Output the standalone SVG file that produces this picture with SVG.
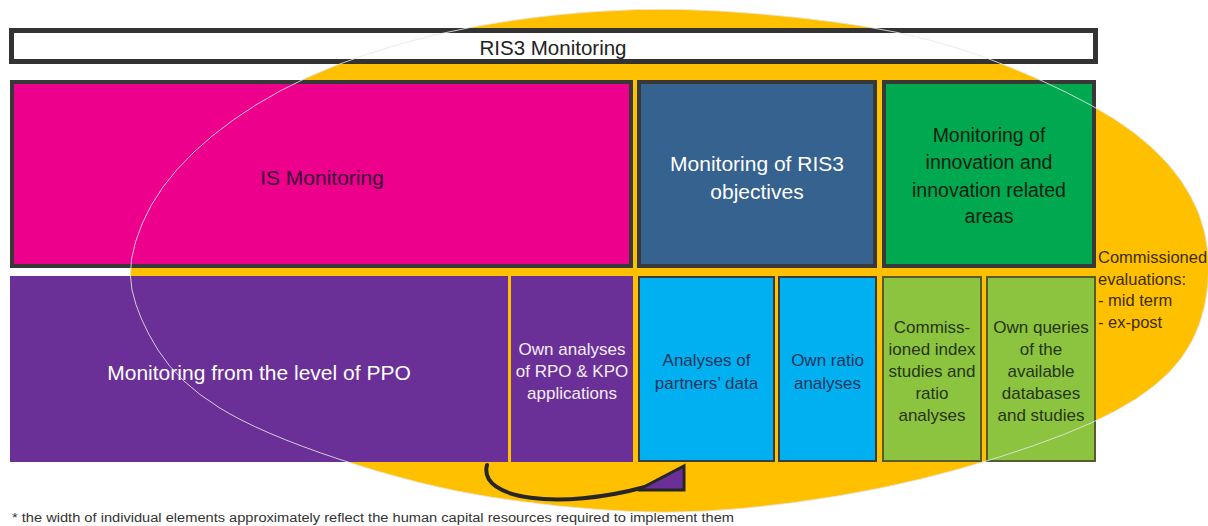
<svg xmlns="http://www.w3.org/2000/svg" width="1208" height="526" viewBox="0 0 1208 526">
<style>
text{font-family:"Liberation Sans",Arial,sans-serif;text-anchor:middle;dominant-baseline:central}
.h{font-size:19.5px;fill:#0d1f10}
.s{font-size:17px}
.top{stroke:#383838;stroke-width:4}
.bot{stroke:#3c3c3c;stroke-width:2}
.lg{stroke:#5a5a30;stroke-width:2}
.ce{font-size:16.5px;text-anchor:start;fill:#3d2e00}
</style>
<defs>
<path id="oval" d="M555,15 Q640,6 720,11 Q800,16 865,26.5 Q930,37 986.5,58 Q1043,79 1091.5,105.5 Q1140,132 1168,164 Q1196,196 1204.5,232 Q1213,268 1204.5,306.5 Q1196,345 1169,372.5 Q1142,400 1091,423 Q1040,446 961,468.5 Q882,491 791,503 Q700,515 630,511.5 Q560,508 490,497 Q420,486 340,459.5 Q260,433 219,407.5 Q178,382 158,350 Q138,318 132,290 Q126,262 142,224 Q158,186 194,152 Q230,118 280,91 Q330,64 400,44 Q470,24 555,15 Z"/>
</defs>
<rect width="1208" height="526" fill="#ffffff"/>
<use id="ellipse-fill" href="#oval" fill="#FFC000"/>
<g id="title">
<rect x="11.5" y="30.5" width="1084" height="31" fill="#ffffff" stroke="#333333" stroke-width="5"/>
<text x="553" y="47" style="font-size:20.5px" fill="#222222">RIS3 Monitoring</text>
</g>
<g id="is-monitoring">
<rect class="top" x="12" y="82" width="619" height="184" fill="#EC008C"/>
<text x="322" y="177" fill="#3a0a36" style="font-size:21px">IS Monitoring</text>
</g>
<g id="ris3-objectives">
<rect class="top" x="639" y="82" width="236" height="184" fill="#35628F"/>
<text x="757" y="163" fill="#ffffff" style="font-size:21px">Monitoring of RIS3</text>
<text x="757" y="191" fill="#ffffff" style="font-size:21px">objectives</text>
</g>
<g id="innovation-areas">
<rect class="top" x="884" y="82" width="210" height="184" fill="#00A84F"/>
<text class="h" x="989" y="135">Monitoring of</text>
<text class="h" x="989" y="162">innovation and</text>
<text class="h" x="989" y="190">innovation related</text>
<text class="h" x="989" y="216">areas</text>
</g>
<g id="ppo">
<rect x="10" y="276" width="498" height="186" fill="#6A3098"/>
<text x="259" y="372" fill="#ffffff" style="font-size:21px">Monitoring from the level of PPO</text>
</g>
<g id="rpo-kpo">
<rect x="511" y="276" width="122" height="186" fill="#6A3098"/>
<text class="s" x="572" y="349" fill="#f4eefa">Own analyses</text>
<text class="s" x="572" y="371" fill="#f4eefa">of RPO &amp; KPO</text>
<text class="s" x="572" y="393" fill="#f4eefa">applications</text>
</g>
<g id="partners-data">
<rect class="bot" x="639" y="277" width="135" height="184" fill="#00B0F0"/>
<text class="s" x="706.5" y="360" fill="#1b365d">Analyses of</text>
<text class="s" x="706.5" y="383" fill="#1b365d">partners’ data</text>
</g>
<g id="ratio-analyses">
<rect class="bot" x="779" y="277" width="97" height="184" fill="#00B0F0"/>
<text class="s" x="827.5" y="360" fill="#1b365d">Own ratio</text>
<text class="s" x="827.5" y="383" fill="#1b365d">analyses</text>
</g>
<g id="index-studies">
<rect class="lg" x="883" y="277" width="98" height="184" fill="#8CC43F"/>
<text class="s" x="932" y="327" fill="#263514">Commiss-</text>
<text class="s" x="932" y="349" fill="#263514">ioned index</text>
<text class="s" x="932" y="371" fill="#263514">studies and</text>
<text class="s" x="932" y="393" fill="#263514">ratio</text>
<text class="s" x="932" y="415" fill="#263514">analyses</text>
</g>
<g id="own-queries">
<rect class="lg" x="987" y="277" width="108" height="184" fill="#8CC43F"/>
<text class="s" x="1041" y="327" fill="#263514">Own queries</text>
<text class="s" x="1041" y="349" fill="#263514">of the</text>
<text class="s" x="1041" y="371" fill="#263514">available</text>
<text class="s" x="1041" y="393" fill="#263514">databases</text>
<text class="s" x="1041" y="415" fill="#263514">and studies</text>
</g>
<g id="commissioned-evaluations">
<text class="ce" x="1098" y="257">Commissioned</text>
<text class="ce" x="1098" y="279">evaluations:</text>
<text class="ce" x="1098" y="300">- mid term</text>
<text class="ce" x="1098" y="322">- ex-post</text>
</g>
<use id="ellipse-outline" href="#oval" fill="none" stroke="#e6e6e6" stroke-opacity="0.85" stroke-width="1"/>
<g id="connectors">
<path d="M487,465 C478,500 560,510 645,487" fill="none" stroke="#262626" stroke-width="4" stroke-linecap="round"/>
<polygon points="638,490 684,466 684,490" fill="#6A3098" stroke="#262626" stroke-width="3" stroke-linejoin="miter"/>
</g>
<text id="footnote" x="12" y="518" fill="#333333" style="font-size:12.5px;text-anchor:start" textLength="722" lengthAdjust="spacingAndGlyphs">* the width of individual elements approximately reflect the human capital resources required to implement them</text>
</svg>
